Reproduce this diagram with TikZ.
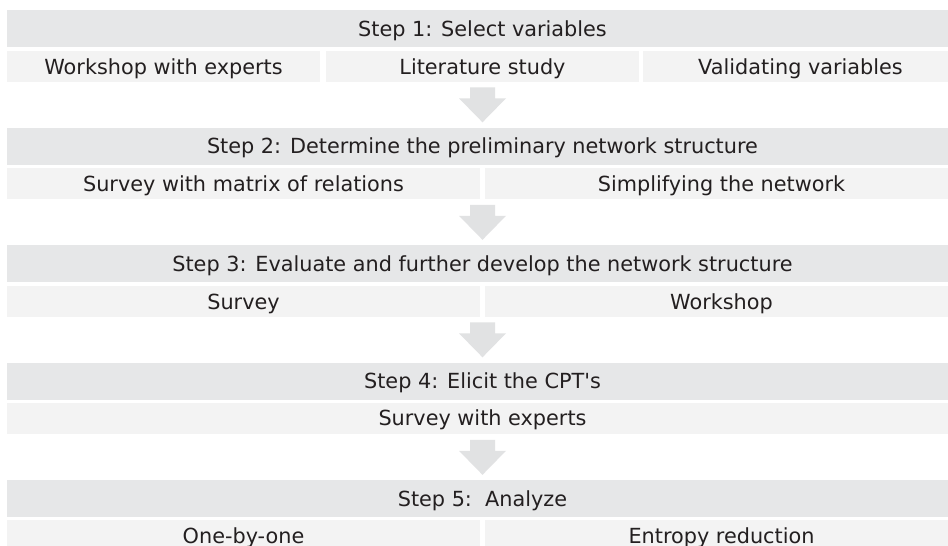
\documentclass[tikz,border=0pt]{standalone}
\usepackage{fontspec}
\newfontfamily\vfont{DejaVu Sans}
\usetikzlibrary{calc}
\definecolor{bandgray}{HTML}{E6E7E8}
\definecolor{subgray}{HTML}{F3F3F3}
\definecolor{arrowgray}{HTML}{E1E2E3}
\definecolor{txt}{HTML}{231F20}
\tikzset{
  lbl/.style={inner sep=0pt, draw=none, text=txt, text height=15.2pt, text depth=0pt,
    font=\vfont\fontsize{20.8}{25}\selectfont},
  band/.style={lbl, fill=bandgray, minimum width=951pt, minimum height=37pt},
  subbox/.style={lbl, fill=subgray, minimum height=31pt},
  third/.style={subbox, minimum width=313pt},
  half/.style={subbox, minimum width=473pt},
  full/.style={subbox, minimum width=951pt},
  blockarrow/.style={fill=arrowgray, draw=none}
}
\begin{document}
\begin{tikzpicture}[x=1pt,y=-1pt]
\clip (0,0) rectangle (948,546);
\fill[white] (0,0) rectangle (948,546);
% Step 1
\node[band] (b1) at (482.5,28.5) {Step 1: Select variables};
\node[third] (s1a) at (163.5,66.5) {Workshop with experts};
\node[third] (s1b) at (482.5,66.5) {Literature study};
\node[subbox, minimum width=315pt] (s1c) at (800.5,66.5) {Validating variables};
% Step 2
\node[band] (b2) at (482.5,146) {Step 2: Determine the preliminary network structure};
\node[half] (s2a) at (243.5,183.5) {Survey with matrix of relations};
\node[half] (s2b) at (721.5,183.5) {Simplifying the network};
% Step 3
\node[band] (b3) at (482.5,263.5) {Step 3: Evaluate and further develop the network structure};
\node[half] (s3a) at (243.5,301.5) {Survey};
\node[half] (s3b) at (721.5,301.5) {Workshop};
% Step 4
\node[band] (b4) at (482.5,381) {Step 4: Elicit the CPT's};
\node[full] (s4a) at (482.5,418) {Survey with experts};
% Step 5
\node[band] (b5) at (482.5,498.5) {Step 5:~~Analyze};
\node[half] (s5a) at (243.5,535.5) {One-by-one};
\node[half] (s5b) at (721.5,535.5) {Entropy reduction};
% block arrows
\foreach \t in {b2,b3,b4,b5}{
  \fill[blockarrow] ($(\t.north)+(-12.5,-40)$) -- ++(25,0) -- ++(0,11) -- ++(11,0)
    -- ($(\t.north)+(0,-5)$) -- ($(\t.north)+(-23.5,-29)$) -- ++(11,0) -- cycle;
}
\end{tikzpicture}
\end{document}
